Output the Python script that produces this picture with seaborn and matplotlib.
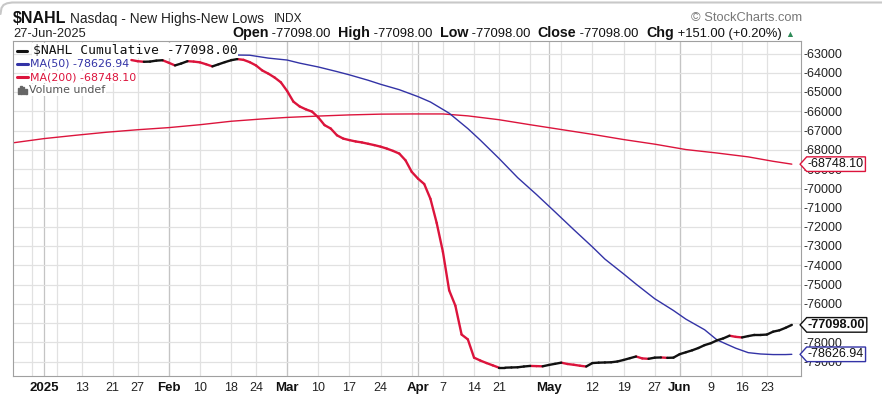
import numpy as np
import pandas as pd
import matplotlib
matplotlib.use("Agg")
import matplotlib.pyplot as plt
import seaborn as sns
from matplotlib.path import Path
from matplotlib.lines import Line2D
from matplotlib.patches import Rectangle
from matplotlib.transforms import blended_transform_factory

# ---------------- data ----------------
holidays = ["2024-12-25", "2025-01-01", "2025-01-09", "2025-01-20", "2025-02-17",
            "2025-04-18", "2025-05-26", "2025-06-19"]
session_start = "2024-12-24"
session_end = "2025-06-27"

# $NAHL cumulative, one value per trading day from 2025-01-24 to 2025-06-27
cum_start = "2025-01-24"
cum_values = [
    -63340, -63400, -63430, -63420, -63370, -63350, -63480, -63620, -63520, -63400,
    -63420, -63460, -63560, -63670, -63560, -63450, -63350, -63290, -63330, -63450,
    -63620, -63880, -64050, -64250, -64500, -64950, -65500, -65750, -65900, -66020,
    -66320, -66720, -66900, -67250, -67420, -67500, -67570, -67620, -67690, -67760,
    -67840, -67940, -68060, -68200, -68550, -69150, -69500, -69780, -70550, -71800,
    -73300, -75300, -76100, -77600, -77850, -78800, -78950, -79080, -79200, -79320,
    -79320, -79310, -79300, -79260, -79230, -79240, -79250, -79180, -79120, -79060,
    -79130, -79170, -79220, -79260, -79080, -79060, -79050, -79040, -79000, -78920,
    -78830, -78740, -78840, -78860, -78800, -78790, -78810, -78800, -78620, -78520,
    -78420, -78300, -78150, -78050, -77900, -77800, -77660, -77720, -77750, -77680,
    -77620, -77620, -77600, -77450, -77380, -77250, -77098,
]

ma50_dates = ["2025-02-19", "2025-02-21", "2025-02-26", "2025-03-03", "2025-03-05",
              "2025-03-10", "2025-03-13", "2025-03-17", "2025-03-20", "2025-03-24",
              "2025-03-27", "2025-04-01", "2025-04-03", "2025-04-08", "2025-04-11",
              "2025-04-15", "2025-04-21", "2025-04-24", "2025-04-29", "2025-05-02",
              "2025-05-07", "2025-05-12", "2025-05-14", "2025-05-19", "2025-05-21",
              "2025-05-27", "2025-05-30", "2025-06-03", "2025-06-06", "2025-06-10",
              "2025-06-13", "2025-06-17", "2025-06-20", "2025-06-24", "2025-06-26",
              "2025-06-27"]
ma50_values = [-63080, -63090, -63240, -63340, -63500, -63700, -63940, -64110, -64390,
               -64600, -64880, -65240, -65520, -66100, -66900, -67500, -68450, -69450,
               -70320, -71230, -72150, -73050, -73680, -74450, -74980, -75740, -76350,
               -76800, -77350, -77880, -78310, -78540, -78610, -78640, -78640, -78626.94]

ma200_dates = ["2024-12-24", "2025-01-02", "2025-01-10", "2025-01-17", "2025-01-27",
               "2025-02-03", "2025-02-10", "2025-02-18", "2025-02-25", "2025-03-03",
               "2025-03-10", "2025-03-17", "2025-03-24", "2025-03-31", "2025-04-07",
               "2025-04-11", "2025-04-21", "2025-04-28", "2025-05-05", "2025-05-12",
               "2025-05-19", "2025-05-27", "2025-06-03", "2025-06-10", "2025-06-17",
               "2025-06-24", "2025-06-27"]
ma200_values = [-67640, -67420, -67250, -67090, -66960, -66850, -66700, -66520, -66400,
                -66320, -66250, -66190, -66150, -66140, -66140, -66240, -66440, -66700,
                -66950, -67200, -67470, -67710, -67990, -68170, -68370, -68600, -68748.10]

tick_dates = ["2025-01-02", "2025-01-13", "2025-01-21", "2025-01-27", "2025-02-03",
              "2025-02-10", "2025-02-18", "2025-02-24", "2025-03-03", "2025-03-10",
              "2025-03-17", "2025-03-24", "2025-04-01", "2025-04-07", "2025-04-14",
              "2025-04-21", "2025-05-01", "2025-05-12", "2025-05-19", "2025-05-27",
              "2025-06-02", "2025-06-09", "2025-06-16", "2025-06-23"]
tick_labels = ["2025", "13", "21", "27", "Feb", "10", "18", "24", "Mar", "10", "17",
               "24", "Apr", "7", "14", "21", "May", "12", "19", "27", "Jun", "9", "16", "23"]
bold_ticks = ["2025", "Feb", "Mar", "Apr", "May", "Jun"]
y_ticks = list(range(-79000, -62000, 1000))
hidden_y_labels = [-77000]   # fully covered by the close-value tag

last_close = "-77098.00"
last_ma50 = "-78626.94"
last_ma200 = "-68748.10"

# ---------------- style ----------------
RED = "#dc143c"
BLUE = "#3333a6"
BLACK = "#111111"

sns.set_theme(style="white")
plt.rcParams["font.family"] = ["Liberation Sans", "DejaVu Sans"]
plt.rcParams["axes.unicode_minus"] = False

days = pd.bdate_range(session_start, session_end, freq="C", holidays=holidays)
pos = {d: i for i, d in enumerate(days)}


def p(d):
    return pos[pd.Timestamp(d)]


W, H = 882, 397
fig = plt.figure(figsize=(W / 100, H / 100), dpi=100)
L, R, T, B = 13, 801, 41, 376
ax = fig.add_axes([L / W, 1 - B / H, (R - L) / W, (B - T) / H])

# grid: weekly (first session of each week) and monthly lines
week_starts = [i for i in range(1, len(days)) if days[i].weekday() < days[i - 1].weekday()]
month_starts = [i for i in range(1, len(days)) if days[i].month != days[i - 1].month]
for i in week_starts:
    ax.axvline(i, color="#e1e1e1", lw=0.9, zorder=0)
for i in month_starts:
    ax.axvline(i, color="#c4c4c4", lw=0.9, zorder=0)
for v in y_ticks:
    ax.axhline(v, color="#e1e1e1", lw=0.9, zorder=0)

# MA lines
ma200 = pd.DataFrame({"x": [p(d) for d in ma200_dates], "y": ma200_values})
ma50 = pd.DataFrame({"x": [p(d) for d in ma50_dates], "y": ma50_values})
sns.lineplot(data=ma200, x="x", y="y", color=RED, lw=1.0, ax=ax, zorder=2)
sns.lineplot(data=ma50, x="x", y="y", color=BLUE, lw=1.0, ax=ax, zorder=2)

# cumulative line, coloured black on up days and red on down days
cx = list(range(p(cum_start), p(cum_start) + len(cum_values)))
rows = []
for k in range(1, len(cum_values)):
    d = "up" if cum_values[k] >= cum_values[k - 1] else "down"
    rows.append({"seg": k, "x": cx[k - 1], "y": cum_values[k - 1], "dir": d})
    rows.append({"seg": k, "x": cx[k], "y": cum_values[k], "dir": d})
segdf = pd.DataFrame(rows)
sns.lineplot(data=segdf, x="x", y="y", units="seg", hue="dir", estimator=None,
             palette={"up": BLACK, "down": RED}, lw=1.7, legend=False, ax=ax,
             zorder=3, solid_capstyle="round")

# axes limits
px_per_day = 6.24
jan2 = p("2025-01-02")
ax.set_xlim(jan2 - (43 - L) / px_per_day, jan2 + (R - 43) / px_per_day)
px_per_k = 19.25
ax.set_ylim(-63000 - (B - 53.5) / px_per_k * 1000, -63000 + (53.5 - T) / px_per_k * 1000)
ax.set_xlabel("")
ax.set_ylabel("")

ax.yaxis.tick_right()
ax.set_yticks(y_ticks)
ax.set_yticklabels(["" if v in hidden_y_labels else str(v) for v in y_ticks])
ax.tick_params(axis="y", length=0, pad=1.5, labelsize=9, labelcolor="#222222")
ax.set_xticks([p(d) for d in tick_dates])
ax.set_xticklabels(tick_labels)
ax.set_xticks(range(len(days)), minor=True)
ax.tick_params(axis="x", which="major", length=0, pad=4, labelsize=9, labelcolor="#222222")
ax.tick_params(axis="x", which="minor", length=2, width=0.6, color="#aaaaaa", direction="out")
for t in ax.get_xticklabels():
    if t.get_text() in bold_ticks:
        t.set_fontweight("bold")
        t.set_fontsize(9.5)
        t.set_color("#111111")
for s in ax.spines.values():
    s.set_color("#a0a0a0")
    s.set_linewidth(0.8)


# value tags on the right axis
def tag_style(x0, y0, width, height, mutation_size):
    pad = 1.3
    x0 -= pad
    y0 -= pad
    w = width + 2 * pad
    h = height + 2 * pad
    tip = h * 0.45
    verts = [(x0 - tip, y0 + h / 2), (x0, y0), (x0 + w, y0), (x0 + w, y0 + h),
             (x0, y0 + h), (x0 - tip, y0 + h / 2)]
    return Path(verts, closed=True)


trans = blended_transform_factory(ax.transAxes, ax.transData)
for txt, val, ec, bold in [(last_ma200, float(last_ma200), RED, False),
                           (last_ma50, float(last_ma50), BLUE, False),
                           (last_close, float(last_close), BLACK, True)]:
    ax.text(1.0 + 7 / (R - L), val, txt, transform=trans, ha="left", va="center",
            fontsize=9.2 if bold else 9, fontweight="bold" if bold else "normal",
            color="#111111", clip_on=False, zorder=10,
            bbox=dict(boxstyle=tag_style, fc="white", ec=ec, lw=1.0))


# legend rows inside the plot
def fx(x):
    return x / W


def fy(y):
    return 1 - y / H


fig.text(fx(33), fy(50.5), "$NAHL Cumulative " + last_close, family="DejaVu Sans Mono",
         fontsize=9.4, color="#111111", va="center", ha="left", zorder=20,
         bbox=dict(fc="white", ec="none", pad=0.5))
fig.text(fx(30), fy(63.5), "MA(50) " + last_ma50, family="DejaVu Sans",
         fontsize=7.9, color=BLUE, va="center", ha="left", zorder=20,
         bbox=dict(fc="white", ec="none", pad=0.5))
fig.text(fx(30), fy(77), "MA(200) " + last_ma200, family="DejaVu Sans",
         fontsize=7.9, color=RED, va="center", ha="left", zorder=20,
         bbox=dict(fc="white", ec="none", pad=0.5))
fig.text(fx(29), fy(90), "Volume undef", family="DejaVu Sans",
         fontsize=7.9, color="#555555", va="center", ha="left", zorder=20,
         bbox=dict(fc="white", ec="none", pad=0.5))
for (x0, x1, y, c) in [(17, 27, 50.5, BLACK), (17, 28, 63.5, BLUE), (17, 28, 77, RED)]:
    fig.add_artist(Line2D([fx(x0), fx(x1)], [fy(y), fy(y)], color=c, lw=2.2, zorder=21))
for (x0, hgt) in [(17.5, 6), (20, 8), (22.5, 7), (25, 5)]:
    fig.add_artist(Rectangle((fx(x0), fy(94)), 1.6 / W, hgt / H, color="#666666", zorder=21))

# header
fig.text(fx(13), fy(23), "$NAHL", fontsize=11.5, fontweight="bold", color="#111111",
         va="baseline")
fig.text(fx(70), fy(22.5), "Nasdaq - New Highs-New Lows", fontsize=9.9, color="#222222",
         va="baseline")
fig.text(fx(274), fy(22.5), "INDX", fontsize=8.6, color="#222222", va="baseline")
fig.text(fx(13), fy(37), "27-Jun-2025", fontsize=9.3, color="#222222", va="baseline")
fig.text(fx(802), fy(21), "\u00a9 StockCharts.com", fontsize=9.3, color="#777777",
         va="baseline", ha="right")

pieces = [("Open", True), (" " + last_close + "  ", False), ("High", True),
          (" " + last_close + "  ", False), ("Low", True), (" " + last_close + "  ", False),
          ("Close", True), (" " + last_close + "  ", False), ("Chg", True),
          (" +151.00 (+0.20%) ", False)]
renderer = fig.canvas.get_renderer()
xcur = 232
for s, b in pieces:
    t = fig.text(fx(xcur), fy(37), s, fontsize=10.3 if b else 9.4,
                 fontweight="bold" if b else "normal", color="#111111", va="baseline")
    xcur += t.get_window_extent(renderer).width
fig.text(fx(xcur), fy(37), "\u25b2", fontsize=6.5, color="#2e8b57", va="baseline")

# outer frame line along the top with a rounded left corner
fig.add_artist(Line2D([fx(0.5), fx(1.5), fx(3.5), fx(7), fx(12), fx(W)],
                      [fy(14), fy(8), fy(5), fy(3.3), fy(2.5), fy(2.5)],
                      color="#c8c8c8", lw=1.5, zorder=0))

fig.savefig("out.png", dpi=100)
